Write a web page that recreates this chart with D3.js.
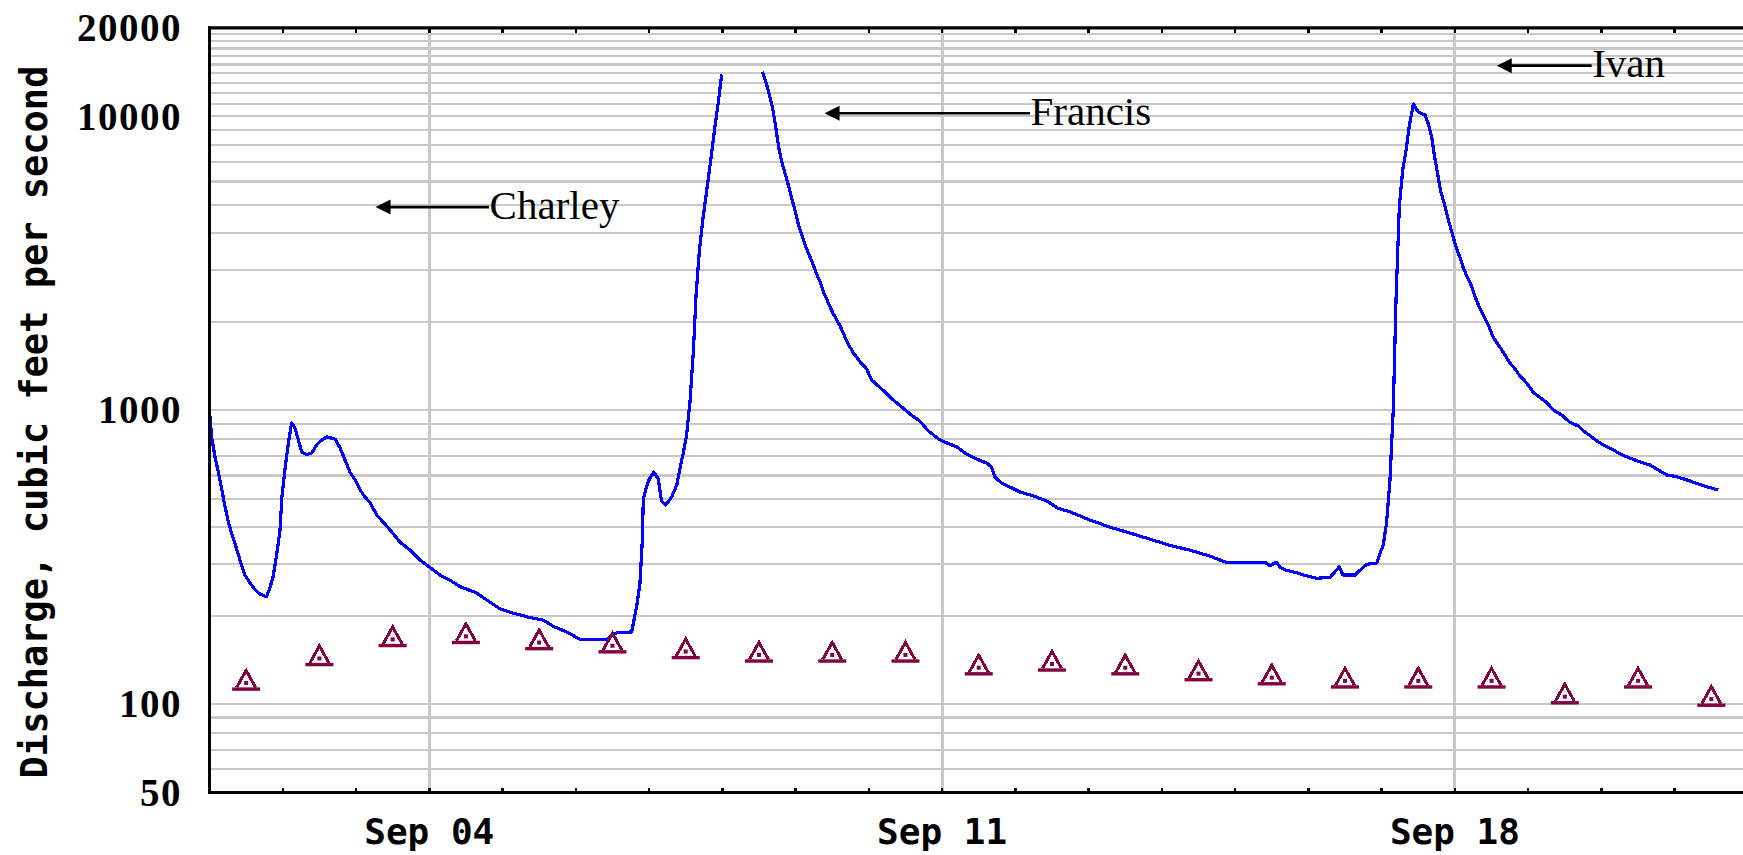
<!DOCTYPE html>
<html>
<head>
<meta charset="utf-8">
<script src="https://cdn.jsdelivr.net/npm/d3@7"></script>
<style>
body{margin:0;background:#fff;}
svg{display:block;}
</style>
</head>
<body>
<script>
// Discharge record, hours after 2004-09-01 00:00, cfs (null = missing)
const flowHours=[0,0.7,1.8,2.9,4.0,5.1,6.2,7.3,8.4,10.0,11.6,13.3,14.9,16.5,18.7,19.8,20.8,22.0,23.1,23.7,
24.7,25.8,26.9,28.0,29.1,30.2,31.8,33.5,35.1,36.8,38.4,41.1,42.8,44.4,46.0,47.7,49.3,50.9,52.6,54.8,
56.9,59.2,62.4,65.7,69.0,72.2,75.5,78.8,82.1,87.5,90.8,95.2,99.5,105.0,109.4,112.6,117.0,121.4,130.1,133.4,
138.3,139.9,141.0,141.8,142.1,142.9,144.1,145.6,147.0,148.1,149.5,151.4,153.1,154.1,155.2,156.3,157.4,158.5,159.4,160.5,
161.6,162.7,163.7,164.7,165.7,166.7,167.8,174.0,181.1,182.3,183.4,184.4,185.5,186.5,187.5,188.6,189.7,190.7,
191.8,192.7,193.8,194.9,196.0,197.3,198.9,200.2,201.1,202.2,203.3,204.4,205.5,206.6,207.6,208.7,209.8,210.9,212.5,213.7,
215.3,216.9,219.1,221.3,224.0,226.8,229.5,232.8,235.5,238.8,241.5,244.8,247.5,251.3,254.6,256.2,257.3,259.5,262.2,265.5,
269.9,274.3,278.1,281.9,288.4,295.0,301.5,308.1,314.6,321.2,327.7,332.9,345.7,347.4,349.6,350.7,352.9,356.0,358.4,362.8,
367.1,370.1,371.3,375.3,377.3,379.1,382.4,383.5,384.5,385.6,386.7,387.8,388.7,389.8,390.9,392.0,393.1,394.4,396.0,398.2,
399.3,400.4,401.2,402.4,403.3,404.4,405.5,406.6,407.6,408.6,409.7,410.7,411.9,412.9,414.0,414.9,415.9,417.0,418.1,419.2,
420.0,421.1,422.8,424.4,426.0,427.7,429.3,431.5,433.7,435.9,438.1,440.2,443.0,445.7,448.4,450.1,452.3,454.5,456.6,459.4,
462.1,465.4,468.6,471.9,474.1,477.4,480.7,484.0,487.2,490.5,494.3];
const flowCfs=[990,811,693,616,539,469,416,379,350,309,275,258,245,237,232,249,270,322,391,503,
626,768,905,870,792,721,705,715,762,792,811,798,744,677,616,579,536,507,484,440,
416,391,356,334,309,292,275,264,251,239,226,211,204,197,193,184,176,166,166,175,
176,214,256,361,495,539,583,616,583,491,476,507,557,631,715,823,1066,1578,2466,3510,
4438,5397,6464,7800,9415,11190,13880,null,14190,13080,11820,10760,9196,7800,6989,6363,5793,5271,
4799,4369,4008,3707,3455,3219,2908,2709,2525,2390,2245,2125,2028,1934,1831,1720,1641,1566,1493,1436,
1381,1267,1209,1153,1083,1025,971,916,850,798,774,750,715,682,661,641,592,565,548,527,
511,491,463,451,423,400,382,364,347,334,319,304,304,296,304,292,285,280,275,268,
270,293,275,275,288,299,302,327,347,413,574,1002,2372,4953,6567,7678,9341,11015,10340,10100,
9415,8503,7443,6314,5570,5089,4580,4169,3825,3537,3296,3059,2862,2730,2545,2390,2253,2142,2027,1927,
1824,1734,1635,1541,1447,1381,1307,1238,1149,1104,1062,1002,963,909,884,850,819,786,762,738,
710,686,668,651,631,602,594,579,564,549,535];

// Daily median discharge (triangles), Sep 01 .. Sep 21
const medianDay=[1,2,3,4,5,6,7,8,9,10,11,12,13,14,15,16,17,18,19,20,21];
const medianCfs=[118,143,166,170,162,158,151,147,147,147,133,137,133,127,123,120,120,120,106,120,104];

// Axis labels and grid
const yLabels=[50,100,1000,10000,20000];
const yGrid=[60,70,80,90,100,200,300,400,500,600,700,800,900,1000,2000,3000,4000,5000,6000,7000,8000,9000,
10000,11000,12000,13000,14000,15000,16000,17000,18000,19000];
const xLabelDays=[4,11,18];

// Storm annotations: arrow from hour -> to hour, at a discharge level
const storms=['Charley','Francis','Ivan'];
const stormFromHour=[54.4,201.5,421.7];
const stormToHour=[91.6,268.8,452.8];
const stormCfs=[4910,10240,14870];

const W=1743, H=855;
const plotLeft=209.5, plotTop=27.8, plotBottom=792.6, pxPerDay=73.26;
const start=new Date(2004,8,1);

const x=d3.scaleTime().domain([start,new Date(2004,8,22)]).range([plotLeft,plotLeft+21*pxPerDay]);
const y=d3.scaleLog().domain([50,20000]).range([plotBottom,plotTop]);
const hourToDate=h=>new Date(start.getTime()+h*3600000);
const dayToDate=d=>new Date(2004,8,d);

const svg=d3.select('body').append('svg').attr('width',W).attr('height',H);

svg.append('clipPath').attr('id','plot')
  .append('rect').attr('x',plotLeft).attr('y',plotTop).attr('width',W-plotLeft).attr('height',plotBottom-plotTop);

// horizontal grid
svg.append('g').selectAll('line').data(yGrid).enter().append('line')
  .attr('x1',plotLeft).attr('x2',W)
  .attr('y1',d=>y(d)).attr('y2',d=>y(d))
  .attr('stroke','#c8c8c8').attr('stroke-width',2.2).attr('shape-rendering','crispEdges');

// vertical grid at labelled days
svg.append('g').selectAll('line').data(xLabelDays).enter().append('line')
  .attr('x1',d=>x(dayToDate(d))).attr('x2',d=>x(dayToDate(d)))
  .attr('y1',plotTop).attr('y2',plotBottom)
  .attr('stroke','#c8c8c8').attr('stroke-width',3).attr('shape-rendering','crispEdges');

// day ticks on top and bottom
const days=d3.range(1,22);
svg.append('g').selectAll('line').data(days).enter().append('line')
  .attr('x1',d=>x(dayToDate(d))).attr('x2',d=>x(dayToDate(d)))
  .attr('y1',plotBottom).attr('y2',plotBottom-5)
  .attr('stroke','#000').attr('stroke-width',2.5).attr('shape-rendering','crispEdges');
svg.append('g').selectAll('line').data(days).enter().append('line')
  .attr('x1',d=>x(dayToDate(d))).attr('x2',d=>x(dayToDate(d)))
  .attr('y1',plotTop).attr('y2',plotTop+5)
  .attr('stroke','#000').attr('stroke-width',2.5).attr('shape-rendering','crispEdges');

// discharge line
const flow=flowHours.map((h,i)=>({date:hourToDate(h),cfs:flowCfs[i]}));
const line=d3.line().defined(d=>d.cfs!=null).x(d=>x(d.date)).y(d=>y(d.cfs));
svg.append('path').datum(flow)
  .attr('clip-path','url(#plot)')
  .attr('d',line)
  .attr('fill','none').attr('stroke','#0000ff').attr('stroke-width',3.2)
  .attr('stroke-linejoin','round')
  .attr('shape-rendering','crispEdges');

// median markers
const med=svg.append('g').selectAll('g').data(medianDay).enter().append('g')
  .attr('transform',(d,i)=>'translate('+x(d3.timeHour.offset(dayToDate(d),12))+','+y(medianCfs[i])+')');
med.append('path').attr('d','M-9.5,4.5L0,-12.5L9.5,4.5')
  .attr('fill','none').attr('stroke','#800040').attr('stroke-width',3)
  .attr('shape-rendering','crispEdges');
med.append('rect').attr('x',-14).attr('y',4.4).attr('width',28).attr('height',3.4).attr('fill','#800040');
med.append('rect').attr('x',-2).attr('y',-2).attr('width',4).attr('height',4).attr('fill','#800040');

// frame
svg.append('line').attr('x1',plotLeft-1.5).attr('x2',W).attr('y1',plotTop).attr('y2',plotTop)
  .attr('stroke','#000').attr('stroke-width',3.3);
svg.append('line').attr('x1',plotLeft-1.5).attr('x2',W).attr('y1',plotBottom).attr('y2',plotBottom)
  .attr('stroke','#000').attr('stroke-width',3);
svg.append('line').attr('x1',plotLeft).attr('x2',plotLeft).attr('y1',plotTop-1.5).attr('y2',plotBottom+1.5)
  .attr('stroke','#000').attr('stroke-width',3);

// y labels
svg.append('g').selectAll('text').data(yLabels).enter().append('text')
  .attr('x',182).attr('y',d=>y(d)).attr('dy','0.34em')
  .attr('text-anchor','end')
  .style('font-family','"Liberation Serif", serif').style('font-weight','bold')
  .style('font-size','39px').style('letter-spacing','1.5px')
  .text(d=>d);

// x labels
svg.append('g').selectAll('text').data(xLabelDays).enter().append('text')
  .attr('x',d=>x(dayToDate(d))).attr('y',844)
  .attr('text-anchor','middle')
  .style('font-family','"DejaVu Sans Mono", monospace').style('font-weight','bold')
  .style('font-size','36px')
  .text(d=>d3.timeFormat('%b %d')(dayToDate(d)));

// y title
svg.append('text')
  .attr('transform','translate(46.7,422) rotate(-90)')
  .attr('text-anchor','middle')
  .style('font-family','"DejaVu Sans Mono", monospace').style('font-weight','bold')
  .style('font-size','37px')
  .text('Discharge, cubic feet per second');

// storm arrows
const ann=svg.append('g').selectAll('g').data(storms).enter().append('g');
ann.append('line')
  .attr('x1',(d,i)=>x(hourToDate(stormFromHour[i]))+12).attr('x2',(d,i)=>x(hourToDate(stormToHour[i])))
  .attr('y1',(d,i)=>y(stormCfs[i])).attr('y2',(d,i)=>y(stormCfs[i]))
  .attr('stroke','#000').attr('stroke-width',2.6);
ann.append('path')
  .attr('transform',(d,i)=>'translate('+x(hourToDate(stormFromHour[i]))+','+y(stormCfs[i])+')')
  .attr('d','M0,0L15,-7.5L15,7.5Z').attr('fill','#000');
ann.append('text')
  .attr('x',(d,i)=>x(hourToDate(stormToHour[i]))+0.5).attr('y',(d,i)=>y(stormCfs[i])+11.7)
  .style('font-family','"Liberation Serif", serif').style('font-size','41px')
  .text(d=>d);
</script>
</body>
</html>
